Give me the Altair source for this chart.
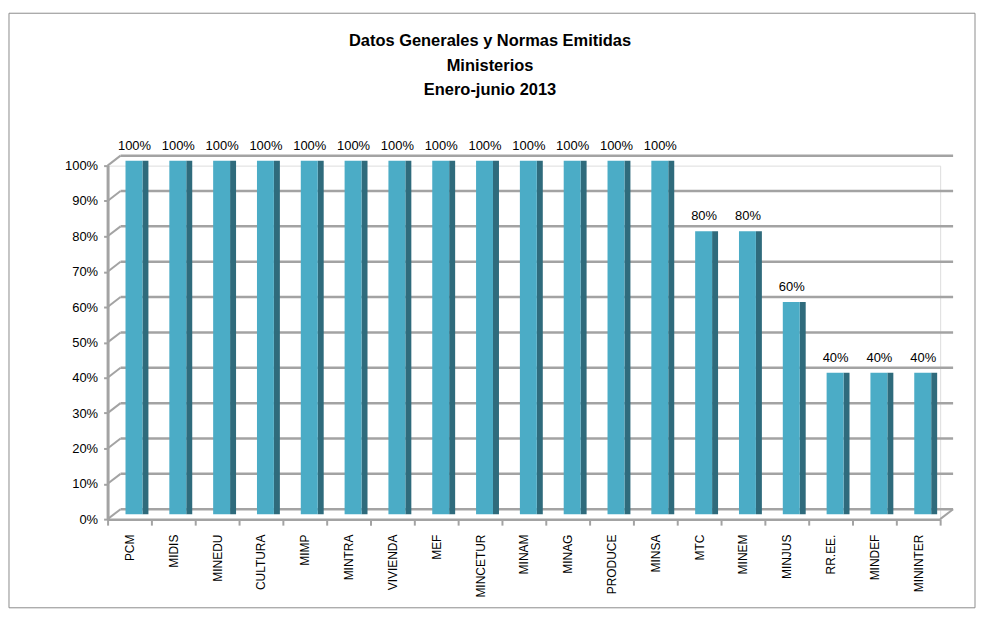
import altair as alt
import pandas as pd

categories = ["PCM", "MIDIS", "MINEDU", "CULTURA", "MIMP", "MINTRA", "VIVIENDA", "MEF",
              "MINCETUR", "MINAM", "MINAG", "PRODUCE", "MINSA", "MTC", "MINEM", "MINJUS",
              "RR.EE.", "MINDEF", "MININTER"]
values = [1.0, 1.0, 1.0, 1.0, 1.0, 1.0, 1.0, 1.0, 1.0, 1.0, 1.0, 1.0, 1.0,
          0.8, 0.8, 0.6, 0.4, 0.4, 0.4]
y_ticks = [0.0, 0.1, 0.2, 0.3, 0.4, 0.5, 0.6, 0.7, 0.8, 0.9, 1.0]
title_lines = ["Datos Generales y Normas Emitidas", "Ministerios", "Enero-junio 2013"]

W, H = 836, 355
DX, DY = 13, -10
GRID = "#A3A3A3"
FRONT = "#4BACC6"
SIDE = "#2F6B7C"

df = pd.DataFrame({"cat": categories, "val": values})
tick_df = pd.DataFrame({"t": y_ticks})

yscale = alt.Scale(domain=[0, 1], nice=False)
xscale = alt.Scale(domain=categories, paddingInner=0, paddingOuter=0)

y_axis = alt.Axis(title=None, values=y_ticks, format=".0%", grid=False,
                  labelFont="Liberation Sans", labelFontSize=13, labelColor="#000000",
                  labelPadding=6, tickColor=GRID, tickSize=4, tickWidth=2,
                  domainColor=GRID, domainWidth=3, labelOverlap=False)
x_axis = alt.Axis(title=None, labelAngle=270, labelAlign="right", labelBaseline="middle",
                  labelFont="Liberation Sans", labelFontSize=12, labelColor="#000000",
                  labelPadding=9, tickBand="extent", tickColor=GRID, tickSize=6,
                  tickWidth=2, domainColor=GRID, domainWidth=2.5, grid=False,
                  labelOverlap=False)

border = alt.Chart(pd.DataFrame({"a": [0]})).mark_rect(
    fill=None, stroke="#8C8C8C", strokeWidth=1
).encode(x=alt.value(-99), x2=alt.value(871), y=alt.value(-153), y2=alt.value(444))

grid = alt.Chart(tick_df).mark_rule(
    color=GRID, strokeWidth=2.5, xOffset=DX, x2Offset=DX, yOffset=DY
).encode(x=alt.value(0), x2=alt.value(W), y=alt.Y("t:Q", scale=yscale, axis=y_axis))

diag = alt.Chart(tick_df).mark_rule(
    color=GRID, strokeWidth=2, y2Offset=DY
).encode(x=alt.value(0), x2=alt.value(DX), y=alt.Y("t:Q", scale=yscale, axis=y_axis), y2="t:Q")

floor_right = alt.Chart(pd.DataFrame({"t": [0.0]})).mark_rule(
    color=GRID, strokeWidth=2, y2Offset=DY
).encode(x=alt.value(W), x2=alt.value(W + DX), y=alt.Y("t:Q", scale=yscale, axis=y_axis), y2="t:Q")

base = alt.Chart(df)

front = base.mark_bar(width=17, xOffset=4.5, yOffset=-5, y2Offset=-5, color=FRONT).encode(
    x=alt.X("cat:N", scale=xscale, sort=categories, axis=x_axis),
    y=alt.Y("val:Q", scale=yscale, axis=y_axis),
)

side = base.mark_bar(width=6, xOffset=16, yOffset=-5, y2Offset=-5, color=SIDE).encode(
    x=alt.X("cat:N", scale=xscale, sort=categories, axis=x_axis),
    y=alt.Y("val:Q", scale=yscale, axis=y_axis),
)

labels = base.mark_text(font="Liberation Sans", fontSize=13, color="#000000",
                        baseline="bottom", xOffset=5, yOffset=-13).encode(
    x=alt.X("cat:N", scale=xscale, sort=categories, axis=x_axis),
    y=alt.Y("val:Q", scale=yscale, axis=y_axis),
    text=alt.Text("val:Q", format=".0%"),
)

title_layers = []
for i, line in enumerate(title_lines):
    title_layers.append(
        alt.Chart(pd.DataFrame({"s": [line]})).mark_text(
            font="Liberation Sans", fontSize=16.5, fontWeight="bold", color="#000000",
            baseline="middle", align="center"
        ).encode(x=alt.value(384), y=alt.value(-125 + 24.5 * i), text="s:N")
    )

chart = alt.layer(border, grid, diag, floor_right, side, front, labels, *title_layers).properties(
    width=W, height=H,
    autosize=alt.AutoSizeParams(type="none"),
    padding={"left": 100, "top": 157, "right": 36, "bottom": 100},
).configure_view(stroke=None).configure(background="white")

chart.save("out.html", embed_options={"renderer": "svg", "actions": False})
